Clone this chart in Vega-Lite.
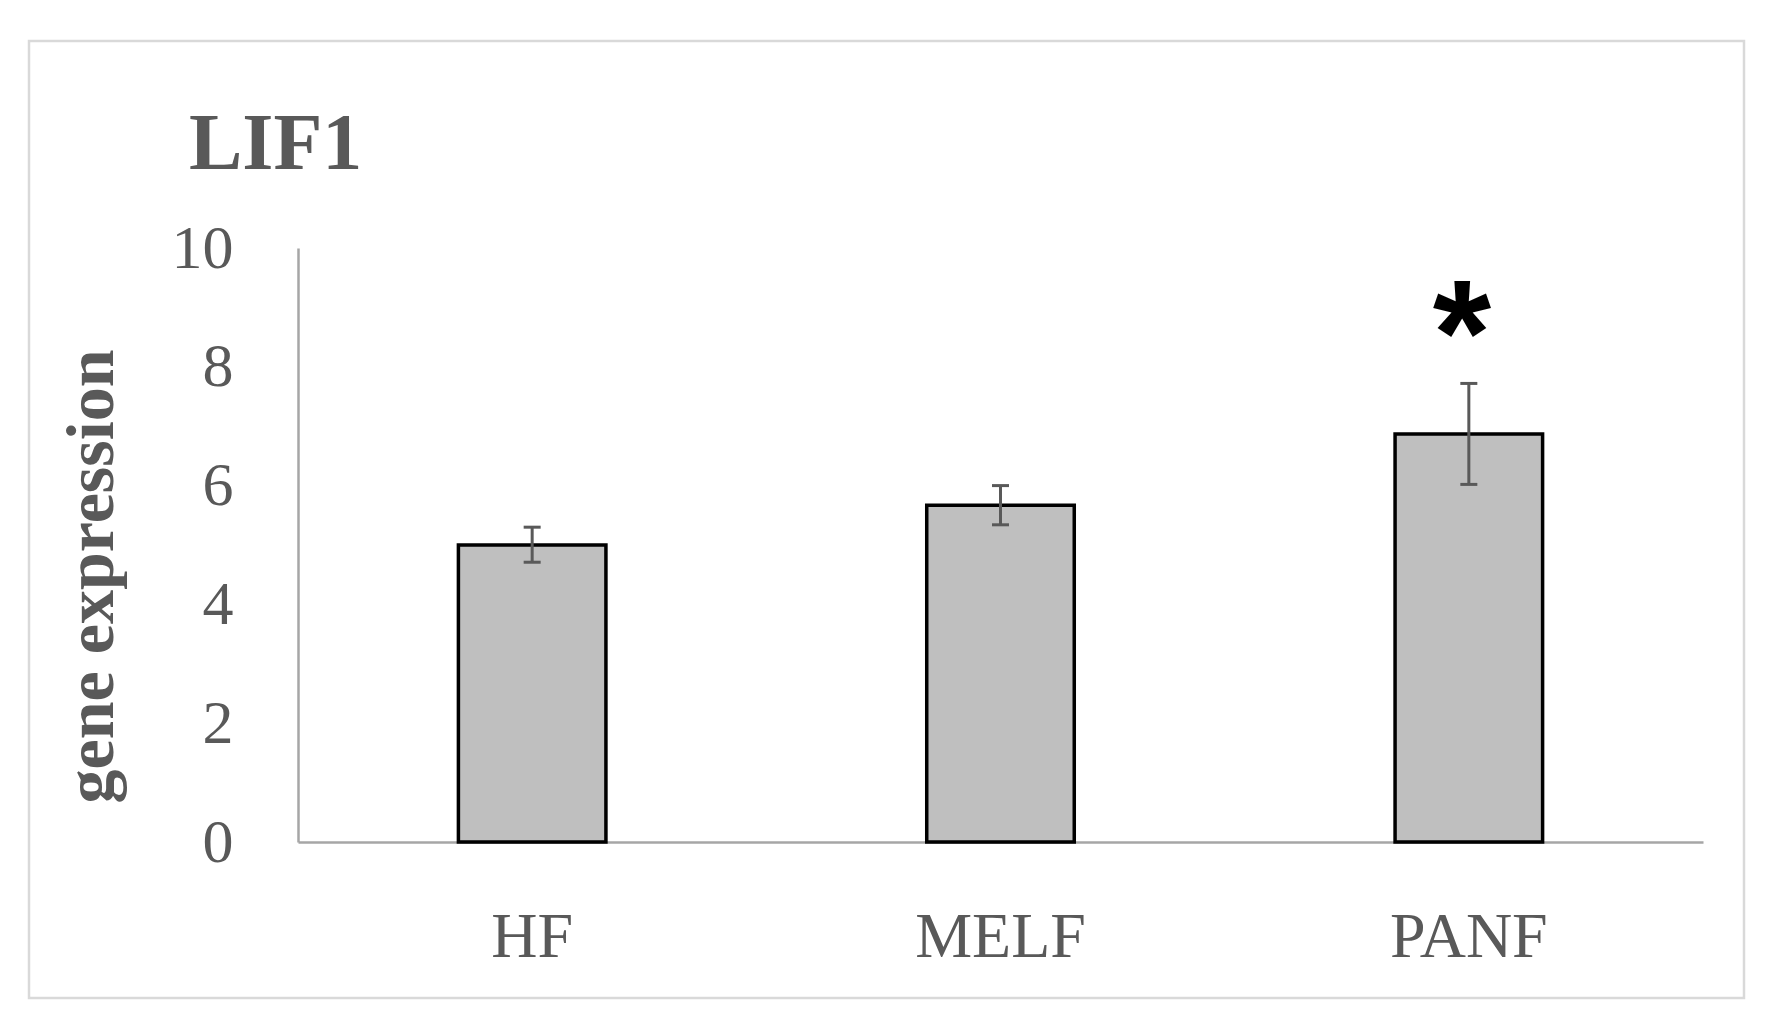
{
  "$schema": "https://vega.github.io/schema/vega-lite/v6.json",
  "autosize": "none",
  "width": 1715,
  "height": 957,
  "padding": {"left": 29, "top": 41, "right": 22, "bottom": 26},
  "background": "white",
  "title": {
    "text": "LIF1",
    "anchor": "start",
    "frame": "group",
    "offset": 0,
    "baseline": "alphabetic",
    "dx": 160,
    "dy": 208,
    "font": "Liberation Serif",
    "fontSize": 80,
    "fontWeight": "bold",
    "color": "#595959"
  },
  "config": {
    "view": {"stroke": "#d9d9d9", "strokeWidth": 2.5}
  },
  "data": {
    "values": [
      {"group": "HF", "mean": 5.0, "lower": 4.71, "upper": 5.30, "sig": ""},
      {"group": "MELF", "mean": 5.67, "lower": 5.34, "upper": 6.0, "sig": ""},
      {"group": "PANF", "mean": 6.87, "lower": 6.02, "upper": 7.72, "sig": "*"}
    ]
  },
  "encoding": {
    "x": {
      "field": "group",
      "type": "nominal",
      "sort": null,
      "scale": {"range": [269, 1674], "paddingInner": 0.685, "paddingOuter": 0.3425},
      "axis": {
        "orient": "bottom",
        "offset": -156,
        "title": null,
        "labelAngle": 0,
        "labelFont": "Liberation Serif",
        "labelFontSize": 64,
        "labelColor": "#595959",
        "labelBaseline": "top",
        "labelPadding": 63,
        "ticks": false,
        "domainColor": "#a6a6a6",
        "domainWidth": 2.5,
        "grid": false
      }
    }
  },
  "layer": [
    {
      "mark": {"type": "bar", "fill": "#bfbfbf", "stroke": "black", "strokeWidth": 3.5},
      "encoding": {
        "y": {
          "field": "mean",
          "type": "quantitative",
          "scale": {"domain": [0, 10], "range": [801, 207], "nice": false, "zero": true},
          "axis": {
            "orient": "left",
            "offset": -269,
            "values": [0, 2, 4, 6, 8, 10],
            "format": "d",
            "title": "gene expression",
            "titleFont": "Liberation Serif",
            "titleFontSize": 68,
            "titleFontWeight": "bold",
            "titleColor": "#595959",
            "titleAngle": -90,
            "titleAlign": "center",
            "titleBaseline": "alphabetic",
            "titleX": -186,
            "titleY": 535,
            "labelFont": "Liberation Serif",
            "labelFontSize": 62,
            "labelColor": "#595959",
            "labelPadding": 65,
            "labelBaseline": "middle",
            "ticks": false,
            "grid": false,
            "domainColor": "#a6a6a6",
            "domainWidth": 2.5
          }
        }
      }
    },
    {
      "mark": {"type": "rule", "stroke": "#595959", "strokeWidth": 3},
      "encoding": {
        "y": {"field": "lower", "type": "quantitative"},
        "y2": {"field": "upper"}
      }
    },
    {
      "mark": {"type": "tick", "color": "#595959", "size": 17, "thickness": 3, "orient": "horizontal", "opacity": 1},
      "encoding": {"y": {"field": "lower", "type": "quantitative"}}
    },
    {
      "mark": {"type": "tick", "color": "#595959", "size": 17, "thickness": 3, "orient": "horizontal", "opacity": 1},
      "encoding": {"y": {"field": "upper", "type": "quantitative"}}
    },
    {
      "mark": {"type": "text", "font": "Liberation Sans", "fontWeight": "bold", "fontSize": 150, "color": "black", "baseline": "alphabetic", "dx": -7, "dy": 2},
      "encoding": {
        "y": {"field": "upper", "type": "quantitative"},
        "text": {"field": "sig"}
      }
    }
  ]
}
